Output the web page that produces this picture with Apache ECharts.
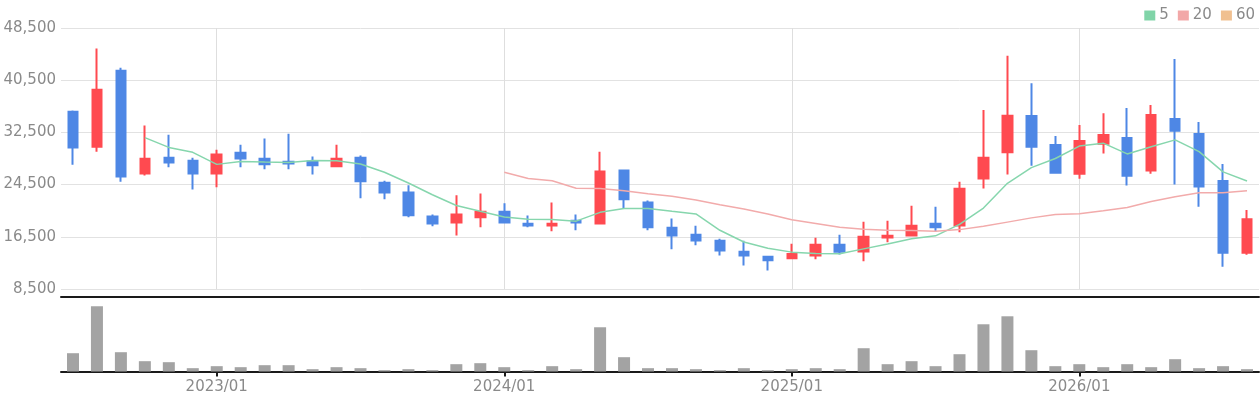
<!DOCTYPE html>
<html>
<head>
<meta charset="utf-8">
<script src="https://cdn.jsdelivr.net/npm/echarts@6/dist/echarts.min.js"></script>
<style>
html,body{margin:0;padding:0;background:#fff;}
#chart{width:1260px;height:400px;}
</style>
</head>
<body>
<div id="chart"></div>
<script>
var categories = [
  '2022/07','2022/08','2022/09','2022/10','2022/11','2022/12',
  '2023/01','2023/02','2023/03','2023/04','2023/05','2023/06','2023/07','2023/08','2023/09','2023/10','2023/11','2023/12',
  '2024/01','2024/02','2024/03','2024/04','2024/05','2024/06','2024/07','2024/08','2024/09','2024/10','2024/11','2024/12',
  '2025/01','2025/02','2025/03','2025/04','2025/05','2025/06','2025/07','2025/08','2025/09','2025/10','2025/11','2025/12',
  '2026/01','2026/02','2026/03','2026/04','2026/05','2026/06','2026/07','2026/08'
];
var opens  = [35650,30300,41950,26200,28600,28150,26200,29400,28450,28000,28050,27300,28600,24800,23300,19600,18700,19500,20350,18500,18250,18950,18550,26650,21750,17900,16800,15900,14200,13450,13200,13650,15300,14250,16400,16700,18500,18250,25450,29450,35000,30550,26150,30750,31650,26650,34550,32250,25050,14050];
var closes = [30200,39050,25750,28450,27900,26200,29100,28500,27600,27750,27450,28450,25000,23300,19800,18550,19900,20350,18700,18250,18500,18700,26500,22250,17950,16700,15950,14400,13650,12900,13850,15300,14200,16500,16650,18200,17950,23850,28600,35050,30300,26300,31200,32100,25850,35150,32750,24200,14050,19200];
var lows   = [27550,29550,24950,25900,27150,23750,24100,27150,26850,26850,26050,27150,22400,22250,19500,18100,16700,17950,18550,17950,17350,17500,18500,20850,17500,14600,15200,13650,12100,11350,13050,13050,13800,12750,15650,16550,17300,17200,23900,26050,27400,26150,25400,29250,24350,26150,24500,21100,11900,13750];
var highs  = [35850,45350,42400,33550,32150,28600,29850,30600,31550,32300,28800,30600,28950,25100,24400,19900,22850,23150,21650,19750,21750,19900,29550,26650,22050,19300,18200,16200,15900,13600,15450,16350,16800,18800,18950,21250,21100,24950,35950,44250,40050,31950,33650,35450,36250,36700,43750,34100,27650,20600];
var volumes = [55,196,58,31,28,10,16,13,19,19,7,13,10,4,7,4,22,25,13,4,16,7,133,43,10,10,7,4,10,4,7,10,7,70,22,31,16,52,142,166,64,16,22,13,22,13,37,10,16,7];
var ma5 = [null,null,null,31700,30200,29450,27600,28050,27950,27900,28200,28150,27650,26400,24750,22950,21300,20400,19550,19200,19150,18900,20250,20850,20850,20400,20000,17500,15700,14750,14150,13950,13900,14650,15400,16200,16650,18400,20900,24700,27100,28500,30400,30850,29200,30300,31350,29550,26450,25050];
var ma20 = [null,null,null,null,null,null,null,null,null,null,null,null,null,null,null,null,null,null,26400,25450,25100,23950,23900,23550,23100,22700,22150,21400,20750,20000,19100,18550,17950,17650,17500,17450,17350,17600,18100,18750,19400,19900,20050,20500,21000,21900,22650,23250,23250,23550];
var ma60 = [];
var yTicks = {min: 8500, max: 48500, step: 8000};

var candleData = opens.map(function (o, i) { return [o, closes[i], lows[i], highs[i]]; });
function isJan(idx, val) { return String(val).slice(5) === '01'; }
var janLines = categories.filter(function (c) { return c.slice(5) === '01'; }).map(function (c) { return {xAxis: c}; });

var UP = '#ff4a50', DOWN = '#4e87e5';
var labelStyle = {color: '#8a8a8a', fontSize: 15, fontFamily: 'DejaVu Sans'};

var chart = echarts.init(document.getElementById('chart'), null, {renderer: 'canvas'});
chart.setOption({
  animation: false,
  backgroundColor: '#fff',
  legend: {
    right: 0, top: 3,
    icon: 'rect', itemWidth: 11, itemHeight: 10, itemGap: 9,
    textStyle: {color: '#8a8a8a', fontSize: 15, fontFamily: 'DejaVu Sans', padding: [0, 0, 0, -1]},
    data: ['5', '20', '60']
  },
  grid: [
    {left: 61, right: 1, top: 28, height: 261},
    {left: 61, right: 1, top: 297, height: 74.5}
  ],
  xAxis: [
    {
      type: 'category', gridIndex: 0, data: categories, boundaryGap: true,
      axisLine: {show: false},
      axisTick: {show: false},
      axisLabel: {show: false},
      splitLine: {show: false}
    },
    {
      type: 'category', gridIndex: 1, data: categories, boundaryGap: true,
      axisLine: {show: true, lineStyle: {color: '#1a1a1a', width: 2}},
      axisTick: {show: true, interval: isJan, alignWithLabel: true, length: 5, lineStyle: {color: '#1a1a1a', width: 2}},
      axisLabel: Object.assign({interval: isJan, margin: 8}, labelStyle),
      splitLine: {show: false}
    },
    {
      type: 'category', gridIndex: 1, data: categories, boundaryGap: true, position: 'top',
      axisLine: {show: true, onZero: false, lineStyle: {color: '#1a1a1a', width: 2}},
      axisTick: {show: false},
      axisLabel: {show: false},
      splitLine: {show: false}
    }
  ],
  yAxis: [
    {
      type: 'value', gridIndex: 0, min: yTicks.min, max: yTicks.max, interval: yTicks.step,
      axisLine: {show: false}, axisTick: {show: false},
      axisLabel: Object.assign({margin: 5}, labelStyle),
      splitLine: {show: true, lineStyle: {color: '#e2e2e2', width: 1}}
    },
    {
      type: 'value', gridIndex: 1, min: 0, max: 224,
      axisLine: {show: false}, axisTick: {show: false}, axisLabel: {show: false},
      splitLine: {show: false}
    }
  ],
  series: [
    {
      name: 'K', type: 'candlestick', xAxisIndex: 0, yAxisIndex: 0,
      data: candleData, barWidth: 10,
      itemStyle: {color: UP, color0: DOWN, borderColor: UP, borderColor0: DOWN, borderColorDoji: UP, borderWidth: 2},
      markLine: {
        silent: true, symbol: ['none', 'none'], z: 1,
        label: {show: false},
        lineStyle: {color: '#dedede', width: 1, type: 'solid'},
        emphasis: {disabled: true},
        data: janLines
      }
    },
    {
      name: '5', type: 'line', xAxisIndex: 0, yAxisIndex: 0, data: ma5,
      showSymbol: false, symbol: 'none', connectNulls: false,
      lineStyle: {color: '#86d6ad', width: 1.5}, itemStyle: {color: '#80d4a8'}
    },
    {
      name: '20', type: 'line', xAxisIndex: 0, yAxisIndex: 0, data: ma20,
      showSymbol: false, symbol: 'none',
      lineStyle: {color: '#f2abab', width: 1.5}, itemStyle: {color: '#f2a8a8'}
    },
    {
      name: '60', type: 'line', xAxisIndex: 0, yAxisIndex: 0, data: ma60,
      showSymbol: false, symbol: 'none',
      lineStyle: {color: '#f0c090', width: 1.5}, itemStyle: {color: '#f0c090'}
    },
    {
      name: 'Vol', type: 'bar', xAxisIndex: 1, yAxisIndex: 1, data: volumes,
      barWidth: 12, itemStyle: {color: '#a3a3a3'}
    }
  ]
});
</script>
</body>
</html>
